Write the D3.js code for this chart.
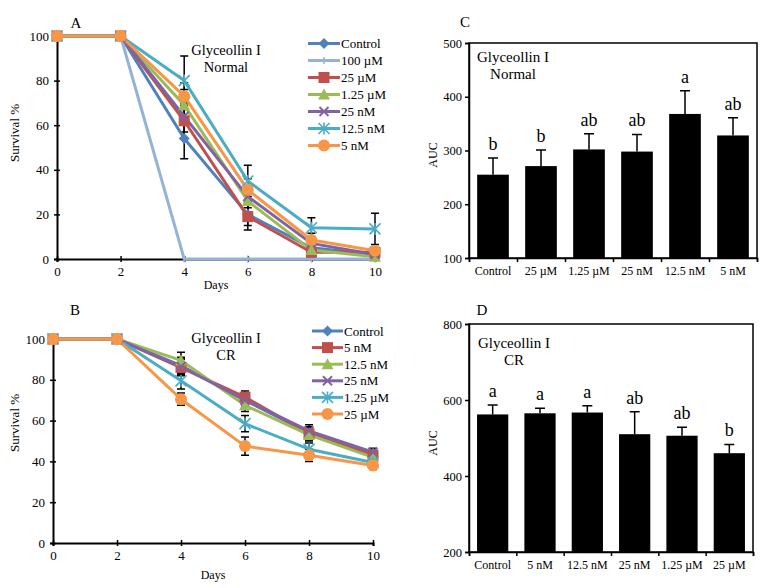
<!DOCTYPE html>
<html><head><meta charset="utf-8">
<script src="https://cdn.jsdelivr.net/npm/d3@7"></script>
<style>
body{margin:0;background:#fff;}
text{font-family:"Liberation Serif","Times New Roman",serif;fill:#000;}
</style></head>
<body><svg id="c" width="766" height="588"></svg>
<script>
// ---------- DATA ----------
const days = [0, 2, 4, 6, 8, 10];
const dayTicks = [0, 2, 4, 6, 8, 10];
const survTicks = [0, 20, 40, 60, 80, 100];

// Panel A (Normal)
const seriesA = ["Control", "100 µM", "25 µM", "1.25 µM", "25 nM", "12.5 nM", "5 nM"];
const valuesA = [
  [100, 100, 54, 20, 5, 2],
  [100, 100, 0, 0, 0, 0],
  [100, 100, 62, 19, 3, 3],
  [100, 100, 69, 26, 4, 1],
  [100, 100, 64, 28, 7, 2],
  [100, 100, 80, 35, 14, 13.5],
  [100, 100, 73, 31, 8.5, 3.7]
];
const errorsA = [
  [0, 0, 9, 5, 2, 1],
  [0, 0, 0, 0, 0, 0],
  [0, 0, 8, 6, 2, 1],
  [0, 0, 7, 5, 2, 1],
  [0, 0, 7, 5, 2, 1],
  [0, 0, 11, 7, 4.5, 7],
  [0, 0, 6, 5, 3, 1]
];
const markersA = ["diamond", "dash", "square", "triangle", "x", "asterisk", "circle"];
const colorsA = ["#4F81BD", "#95B3D7", "#C0504D", "#9BBB59", "#8064A2", "#4BACC6", "#F79646"];

// Panel B (CR)
const seriesB = ["Control", "5 nM", "12.5 nM", "25 nM", "1.25 µM", "25 µM"];
const valuesB = [
  [100, 100, 87, 70, 54, 44],
  [100, 100, 86, 71.5, 53.5, 43],
  [100, 100, 89.5, 67.5, 53, 42],
  [100, 100, 86.5, 70, 55, 44.5],
  [100, 100, 79.5, 58.5, 46, 39.5],
  [100, 100, 70.5, 47.5, 43, 38]
];
const errorsB = [
  [0, 0, 4, 3, 3, 2],
  [0, 0, 4, 3, 3, 2],
  [0, 0, 4, 3, 3, 2],
  [0, 0, 4, 3, 3, 2],
  [0, 0, 4, 4, 3, 2],
  [0, 0, 3, 4.5, 3, 2]
];
const markersB = ["diamond", "square", "triangle", "x", "asterisk", "circle"];
const colorsB = ["#4F81BD", "#C0504D", "#9BBB59", "#8064A2", "#4BACC6", "#F79646"];

// Panel C (AUC Normal)
const catsC = ["Control", "25 µM", "1.25 µM", "25 nM", "12.5 nM", "5 nM"];
const aucC = [255, 271, 302, 298, 368, 328];
const errC = [31, 30, 29, 32, 43, 33];
const letC = ["b", "b", "ab", "ab", "a", "ab"];
const ticksC = [100, 200, 300, 400, 500];

// Panel D (AUC CR)
const catsD = ["Control", "5 nM", "12.5 nM", "25 nM", "1.25 µM", "25 µM"];
const aucD = [562, 565, 567, 510, 506, 460];
const errD = [25, 13, 18, 59, 22, 23];
const letD = ["a", "a", "a", "ab", "ab", "b"];
const ticksD = [200, 400, 600, 800];

// ---------- DRAW ----------
const svg = d3.select("#c");

function marker(g, type, x, y, color) {
  const s = g.append("g").attr("transform", `translate(${x},${y})`);
  if (type === "diamond") {
    s.append("path").attr("d", "M0,-5.5L5.5,0L0,5.5L-5.5,0Z").attr("fill", color);
  } else if (type === "square") {
    s.append("rect").attr("x", -5.5).attr("y", -5.5).attr("width", 11).attr("height", 11).attr("fill", color);
  } else if (type === "triangle") {
    s.append("path").attr("d", "M0,-6L6,5L-6,5Z").attr("fill", color);
  } else if (type === "circle") {
    s.append("circle").attr("r", 6).attr("fill", color);
  } else if (type === "x") {
    s.append("path").attr("d", "M-4.5,-4.5L4.5,4.5M-4.5,4.5L4.5,-4.5").attr("stroke", color).attr("stroke-width", 2).attr("fill", "none");
  } else if (type === "asterisk") {
    s.append("path").attr("d", "M-5.5,-5.5L5.5,5.5M-5.5,5.5L5.5,-5.5M0,-6L0,6").attr("stroke", color).attr("stroke-width", 1.6).attr("fill", "none");
  } else if (type === "dash") {
    s.append("path").attr("d", "M0,-3.5L0,3.5").attr("stroke", color).attr("stroke-width", 1.5).attr("fill", "none");
  }
}

function linePanel(cfg) {
  const g = svg.append("g");
  const x = d3.scaleLinear().domain([0, 10]).range(cfg.xr);
  const y = d3.scaleLinear().domain([0, 100]).range(cfg.yr);

  // axes (ticks cross the axis line)
  const ax = g.append("g").attr("transform", `translate(0,${cfg.yr[0]})`)
    .call(d3.axisBottom(x).tickValues(dayTicks).tickSize(3).tickPadding(5).tickFormat(d3.format("d")));
  ax.selectAll(".tick line").attr("y1", -3).attr("y2", 3);
  const ay = g.append("g").attr("transform", `translate(${cfg.xr[0]},0)`)
    .call(d3.axisLeft(y).tickValues(survTicks).tickSize(3).tickPadding(5));
  ay.selectAll(".tick line").attr("x1", 3).attr("x2", -3);
  [ax, ay].forEach(a => {
    a.select(".domain").attr("stroke", "#000").attr("stroke-width", 2);
    a.selectAll(".tick line").attr("stroke", "#000").attr("stroke-width", 1.5);
    a.selectAll("text").style("font-family", '"Liberation Serif",serif').style("font-size", "13px").attr("fill", "#000");
  });

  // error bars (under lines)
  cfg.values.forEach((vals, si) => {
    vals.forEach((v, i) => {
      const e = cfg.errors[si][i];
      if (!e) return;
      const xx = x(days[i]);
      g.append("path").attr("d",
        `M${xx},${y(v - e)}L${xx},${y(v + e)}M${xx - 4},${y(v + e)}L${xx + 4},${y(v + e)}M${xx - 4},${y(v - e)}L${xx + 4},${y(v - e)}`)
        .attr("stroke", "#000").attr("stroke-width", 1.5).attr("fill", "none");
    });
  });

  const line = d3.line().x((d, i) => x(days[i])).y(d => y(d));
  cfg.values.forEach((vals, si) => {
    g.append("path").datum(vals).attr("d", line).attr("fill", "none")
      .attr("stroke", cfg.colors[si]).attr("stroke-width", 3).attr("stroke-linejoin", "round");
  });
  cfg.values.forEach((vals, si) => {
    vals.forEach((v, i) => marker(g, cfg.markers[si], x(days[i]), y(v), cfg.colors[si]));
  });

  // labels
  g.append("text").attr("x", cfg.letter[0]).attr("y", cfg.letter[1]).attr("text-anchor", "middle")
    .style("font-size", "15px").text(cfg.letterText);
  g.append("text").attr("transform", `translate(${cfg.ylab[0]},${cfg.ylab[1]}) rotate(-90)`)
    .attr("text-anchor", "middle").style("font-size", "13px").text("Survival %");
  g.append("text").attr("x", (cfg.xr[0] + cfg.xr[1]) / 2).attr("y", cfg.xlabY).attr("text-anchor", "middle")
    .style("font-size", "12px").text("Days");
  cfg.title.forEach((t, i) => {
    g.append("text").attr("x", cfg.titlePos[0]).attr("y", cfg.titlePos[1] + i * 17).attr("text-anchor", "middle")
      .style("font-size", "14.5px").text(t);
  });

  // legend
  cfg.series.forEach((name, si) => {
    const yy = cfg.leg.y0 + si * cfg.leg.dy;
    g.append("line").attr("x1", cfg.leg.x1).attr("x2", cfg.leg.x2).attr("y1", yy).attr("y2", yy)
      .attr("stroke", cfg.colors[si]).attr("stroke-width", 3);
    marker(g, cfg.markers[si], (cfg.leg.x1 + cfg.leg.x2) / 2, yy, cfg.colors[si]);
    g.append("text").attr("x", cfg.leg.x2 + 1).attr("y", yy).attr("dy", "0.35em")
      .style("font-size", "13px").text(name);
  });
}

function barPanel(cfg) {
  const g = svg.append("g");
  const y = d3.scaleLinear().domain(cfg.yd).range(cfg.yr);
  const xb = d3.scaleLinear().domain([0, cfg.cats.length]).range(cfg.xr);

  // frame
  g.append("rect").attr("x", cfg.xr[0]).attr("y", cfg.yr[1]).attr("width", cfg.xr[1] - cfg.xr[0])
    .attr("height", cfg.yr[0] - cfg.yr[1]).attr("fill", "none").attr("stroke", "#000").attr("stroke-width", 1.5);

  const ay = g.append("g").attr("transform", `translate(${cfg.xr[0]},0)`)
    .call(d3.axisLeft(y).tickValues(cfg.ticks).tickSize(4).tickPadding(3));
  ay.select(".domain").attr("stroke", "#000").attr("stroke-width", 1.5);
  ay.selectAll(".tick line").attr("stroke", "#000").attr("stroke-width", 1.5);
  ay.selectAll("text").style("font-family", '"Liberation Serif",serif').style("font-size", "12.5px").attr("fill", "#000");

  // x ticks at category boundaries
  const ax = g.append("g").attr("transform", `translate(0,${cfg.yr[0]})`)
    .call(d3.axisBottom(xb).tickValues(d3.range(cfg.cats.length + 1)).tickSize(4).tickFormat(""));
  ax.select(".domain").attr("stroke", "#000").attr("stroke-width", 1.5);
  ax.selectAll(".tick line").attr("stroke", "#000").attr("stroke-width", 1.5);

  cfg.cats.forEach((c, i) => {
    g.append("text").attr("x", xb(i + 0.5)).attr("y", cfg.yr[0] + 17).attr("text-anchor", "middle")
      .style("font-size", "12px").text(c);
  });

  // bars
  const bw = (xb(1) - xb(0)) * 0.66;
  cfg.vals.forEach((v, i) => {
    const cx = xb(i + 0.5);
    g.append("rect").attr("x", cx - bw / 2).attr("y", y(v)).attr("width", bw).attr("height", y(cfg.yd[0]) - y(v)).attr("fill", "#000");
    const top = y(v + cfg.errs[i]);
    g.append("path").attr("d", `M${cx},${y(v)}L${cx},${top}M${cx - 5},${top}L${cx + 5},${top}`)
      .attr("stroke", "#000").attr("stroke-width", 1.5).attr("fill", "none");
    g.append("text").attr("x", cx).attr("y", top - 8).attr("text-anchor", "middle")
      .style("font-size", "18px").text(cfg.letters[i]);
  });

  g.append("text").attr("x", cfg.letter[0]).attr("y", cfg.letter[1]).attr("text-anchor", "middle")
    .style("font-size", "15px").text(cfg.letterText);
  g.append("text").attr("transform", `translate(${cfg.ylab[0]},${cfg.ylab[1]}) rotate(-90)`)
    .attr("text-anchor", "middle").style("font-size", "12px").text("AUC");
  cfg.title.forEach((t, i) => {
    g.append("text").attr("x", cfg.titlePos[0]).attr("y", cfg.titlePos[1] + i * 17).attr("text-anchor", "middle")
      .style("font-size", "15px").text(t);
  });
}

linePanel({
  xr: [57, 375], yr: [259, 36], series: seriesA, values: valuesA, errors: errorsA,
  markers: markersA, colors: colorsA, letter: [76, 28], letterText: "A", ylab: [19, 133], xlabY: 289,
  title: ["Glyceollin I", "Normal"], titlePos: [226, 55],
  leg: { x1: 308, x2: 340, y0: 43.5, dy: 17 }
});
linePanel({
  xr: [53, 373], yr: [543, 339], series: seriesB, values: valuesB, errors: errorsB,
  markers: markersB, colors: colorsB, letter: [75, 315], letterText: "B", ylab: [19, 423], xlabY: 579,
  title: ["Glyceollin I", "CR"], titlePos: [226, 343],
  leg: { x1: 312, x2: 343, y0: 331, dy: 16.6 }
});
barPanel({
  xr: [469, 757], yr: [258, 43], yd: [100, 500], ticks: ticksC, cats: catsC, vals: aucC, errs: errC,
  letters: letC, letter: [465, 27], letterText: "C", ylab: [437, 155], title: ["Glyceollin I", "Normal"], titlePos: [513, 62]
});
barPanel({
  xr: [469, 753], yr: [552, 324], yd: [200, 800], ticks: ticksD, cats: catsD, vals: aucD, errs: errD,
  letters: letD, letter: [482, 315], letterText: "D", ylab: [437, 443], title: ["Glyceollin I", "CR"], titlePos: [514, 348]
});
</script></body></html>
